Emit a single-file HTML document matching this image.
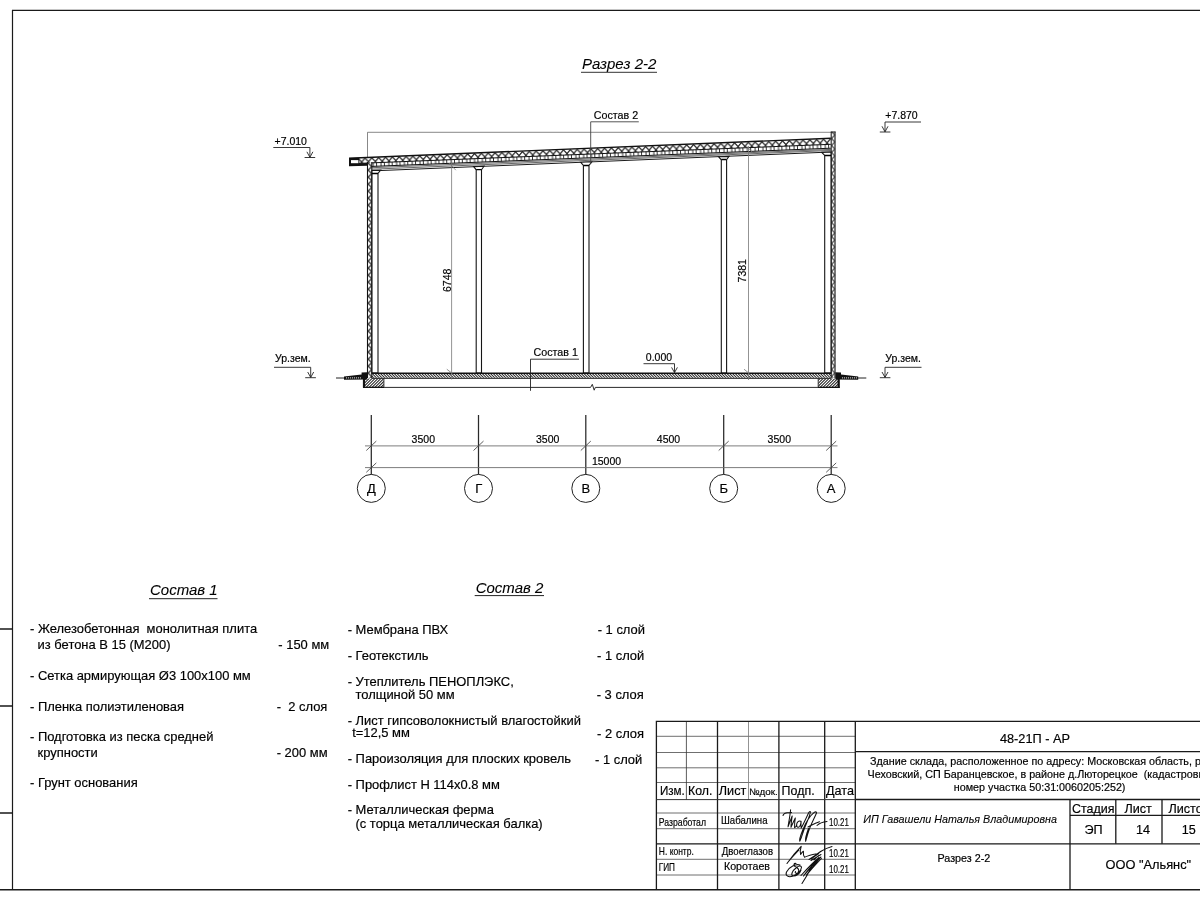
<!DOCTYPE html>
<html lang="ru">
<head>
<meta charset="utf-8">
<title>Разрез 2-2</title>
<style>
html,body{margin:0;padding:0;background:#fff;width:1200px;height:900px;overflow:hidden}
svg{display:block;position:absolute;left:0;top:0;will-change:transform}
text{font-family:"Liberation Sans",sans-serif;fill:#000;stroke:#000;stroke-width:0.18px}
.i{font-style:italic;stroke-width:0.08px}
.k{fill:none}
.g{fill:none}
</style>
</head>
<body>
<svg width="1200" height="900" viewBox="0 0 1200 900">
<defs>
<pattern id="hx" width="6.85" height="5.9" patternUnits="userSpaceOnUse" patternTransform="translate(361.5 157.55) rotate(-2.36)">
<rect width="6.85" height="5.9" fill="#fff"/>
<path d="M-1.2,5.9 L3.425,0.7 L8.05,5.9 M-3.425,0.7 L1.2,5.9 M5.65,5.9 L10.275,0.7" stroke="#0a0a0a" stroke-width="1.12" fill="none"/>
</pattern>
<pattern id="hd" width="7.8" height="12" patternUnits="userSpaceOnUse" patternTransform="translate(368 157) rotate(-2.3)">
<rect width="7.8" height="12" fill="#fff"/>
<rect width="0.85" height="12" fill="#111"/><rect x="4.5" width="0.85" height="12" fill="#111"/>
</pattern>
<pattern id="hw" width="5" height="7" patternUnits="userSpaceOnUse" patternTransform="translate(367.2 159.6)">
<rect width="5" height="7" fill="#fff"/>
<path d="M4.6,0 L0.9,3.5 L4.6,7" stroke="#111" stroke-width="1.05" fill="none"/>
</pattern>
<pattern id="hw2" width="5" height="7" patternUnits="userSpaceOnUse" patternTransform="translate(830.8 201.5)">
<rect width="5" height="7" fill="#fff"/>
<path d="M0.6,0 L4,3.5 L0.6,7" stroke="#111" stroke-width="1.05" fill="none"/>
</pattern>
<clipPath id="cf"><rect x="372" y="373.4" width="459" height="4.3"/></clipPath>
<clipPath id="cb1"><rect x="364" y="378.6" width="19.8" height="8.6"/></clipPath>
<clipPath id="cb2"><rect x="818.3" y="378.6" width="20.4" height="8.6"/></clipPath>
</defs>

<!-- FRAME -->
<g id="frame" class="k" stroke="#1a1a1a" stroke-width="1.2">
<path d="M12.5,889.7 V10.3 H1200"/>
<path d="M0,889.7 H1200" stroke-width="1.5"/>
<path d="M0,629 H12.5 M0,706 H12.5 M0,813 H12.5" stroke-width="1.6"/>
</g>

<!-- DRAWING -->
<g id="drawing">
<!-- thin reference line -->
<path class="g" stroke="#555" stroke-width="0.7" d="M367.5,158 V132.3 H831"/>
<!-- roof layers -->
<polygon points="359,157.7 831,138.2 831,144.2 359,163.4" fill="url(#hx)"/>
<polygon points="367.3,163 831,144.2 831,148.2 367.3,166.7" fill="url(#hd)"/>
<polygon points="349,158.1 359.3,157.7 359.3,163.2 367.3,162.9 367.3,165.8 349,166.2" fill="#111"/>
<rect x="351" y="160.1" width="7.4" height="3.1" fill="#fff"/>
<g class="k" stroke="#111">
<path stroke-width="1.4" d="M349,158.2 L831,138.3"/>
<path stroke-width="1" d="M359,163.4 L831,144.3"/>
<path stroke-width="1" d="M367.3,166.6 L831,148.2"/>
</g>
<!-- truss / profile lines -->
<g class="g" stroke="#000" stroke-width="0.6">
<path d="M372,167.7 L831,149.4"/>
<path d="M372,169.2 L831,150.5"/>
<path d="M372,170.9 L831,152" stroke-width="0.9"/>
</g>
<!-- walls -->
<rect x="367.2" y="162" width="4.7" height="216" fill="url(#hw)"/>
<path class="k" stroke="#111" stroke-width="1.1" d="M367.5,162 V378 M371.8,162 V378"/>
<rect x="830.8" y="131.8" width="4.7" height="246" fill="url(#hw2)"/>
<path class="k" stroke="#111" stroke-width="1" d="M831.2,131.8 V378 M830.8,132 H835.6"/><path class="k" stroke="#333" stroke-width="1.3" d="M835,131.8 V378"/>
<!-- columns -->
<g stroke="#151515" stroke-width="1.1" fill="#fff">
<path d="M372,170.5 L380.6,170.2 L378,173.5 V373 H372 Z"/>
<path d="M473.6,166.6 L484,166.2 L481.5,169.8 V373 H476.2 V169.8 Z"/>
<path d="M580.6,162.2 L591.8,161.8 L589,165.4 V373 H583.4 V165.4 Z"/>
<path d="M718.6,156.8 L729,156.4 L726.6,159.8 V373 H721.3 V159.8 Z"/>
<path d="M821.8,152.4 L831,152 V373 H824.7 V155.4 Z"/>
<path d="M372,173.5 H378 M476.2,169.6 H481.5 M583.4,165.5 H589 M721.3,159.5 H726.6 M824.7,155.5 H831" stroke-width="1.3" stroke="#000"/>
</g>
<!-- floor slab -->
<g clip-path="url(#cf)"><path transform="translate(368,375.5) skewX(45)" d="M0,0 H470" stroke="#1a1a1a" stroke-width="6" stroke-dasharray="1.3 1.45" fill="none"/></g>
<path class="k" stroke="#111" stroke-width="1.4" d="M371.5,373.2 H831.3"/>
<path class="k" stroke="#151515" stroke-width="1" d="M371.5,378.3 H831.3"/>
<!-- foundations -->
<g clip-path="url(#cb1)"><path transform="translate(358,383) skewX(-45)" d="M0,0 H34" stroke="#1a1a1a" stroke-width="10" stroke-dasharray="1.35 1.6" fill="none"/></g>
<g clip-path="url(#cb2)"><path transform="translate(812,383) skewX(-45)" d="M0,0 H34" stroke="#1a1a1a" stroke-width="10" stroke-dasharray="1.35 1.6" fill="none"/></g>
<path class="k" stroke="#111" stroke-width="2.2" d="M364,378.6 V387.6 M838.7,378.6 V387.6"/>
<path class="k" stroke="#222" stroke-width="0.9" d="M383.9,378.5 V387.3 M818.2,378.5 V387.3"/>
<path class="k" stroke="#2a2a2a" stroke-width="1" d="M363,387.4 H590.6 L592.3,384.3 L594.2,390.2 L595.3,387.4 H839.7"/><path class="k" stroke="#111" stroke-width="1.4" d="M363,387.4 H384 M818.2,387.4 H839.7"/>
<!-- aprons -->
<polygon points="344,376.4 361.6,374.6 361.6,372.6 367.2,372.2 367.2,379.4 344,379.8" fill="#111"/>
<polygon points="858.2,376.4 841,374.6 841,372.6 835.4,372.2 835.4,379.4 858.2,379.8" fill="#111"/>
<path d="M346,377.9 H361 M842,377.9 H857" stroke="#fff" stroke-width="0.9" stroke-dasharray="1.1 0.9" fill="none"/>
<path class="g" stroke="#222" stroke-width="1" d="M336,378 H344 M858,378 H866.3"/>

<!-- vertical dims -->
<g class="g" stroke="#777" stroke-width="0.8">
<path d="M451.6,160 V379.5 M449.3,163.2 L455.8,170.2 M446.8,369.2 L452.4,373.6"/>
<path d="M748.5,146 V380 M746,145.5 L752.5,152.5 M744,369.2 L749.4,373.6"/>
</g>
<text transform="translate(451,292) rotate(-90)" font-size="10.5">6748</text>
<text transform="translate(745.6,282.4) rotate(-90)" font-size="10.5">7381</text>

<!-- axes -->
<g class="k" stroke="#2a2a2a" stroke-width="1.25">
<path d="M371.3,415 V474.4 M478.5,415 V474.4 M585.8,415 V474.4 M723.7,415 V474.4 M831.2,415 V474.4"/>
<g stroke-width="1" stroke="#222"><circle cx="371.3" cy="488.4" r="14"/><circle cx="478.5" cy="488.4" r="14"/><circle cx="585.8" cy="488.4" r="14"/><circle cx="723.7" cy="488.4" r="14"/><circle cx="831.2" cy="488.4" r="14"/></g>
</g>
<g class="g" stroke="#6e6e6e" stroke-width="0.9">
<path d="M365,445.9 H837.5 M365,467.6 H837.5"/>
<path d="M366.3,450.5 L376.3,441.1 M473.5,450.5 L483.5,441.1 M580.8,450.5 L590.8,441.1 M718.7,450.5 L728.7,441.1 M826.2,450.5 L836.2,441.1 M366.3,472.3 L376.3,462.9 M826.2,472.3 L836.2,462.9" stroke="#333" stroke-width="0.8"/>
</g>
<g font-size="13" text-anchor="middle">
<text x="371.3" y="493">Д</text><text x="478.7" y="493">Г</text><text x="585.8" y="493">В</text><text x="723.7" y="493">Б</text><text x="831.2" y="493">А</text>
</g>
<g font-size="10.5" text-anchor="middle">
<text x="423.3" y="442.8">3500</text><text x="547.7" y="442.8">3500</text><text x="668.5" y="442.8">4500</text><text x="779.3" y="442.8">3500</text>
<text x="606.5" y="464.7">15000</text>
</g>

<!-- level marks -->
<g class="k" stroke="#222" stroke-width="0.9">
<path d="M273.3,147.5 H309.9 V157.3 M304.6,157.5 H315.2 M306.9,151.8 L309.9,157.3 L312.9,151.8"/>
<path d="M921,122 H885 V131.8 M879.8,132 H890.4 M882,126.3 L885,131.8 L888,126.3"/>
<path d="M274,367.3 H310.7 V377.4 M305.2,377.7 H315.9 M307.7,372 L310.7,377.4 L313.7,372"/>
<path d="M921.5,367.3 H885 V377.4 M879.8,377.7 H890.4 M882,372 L885,377.4 L888,372"/>
<path d="M643.5,363.7 H674.5 V372.6 M671.6,367.4 L674.5,372.6 L677.4,367.4"/>
<path d="M590.7,164 V121.8 H638.8" stroke="#444"/>
<path d="M530.5,390.8 V359.2 H579" stroke="#222"/>
</g>
<g font-size="10.5">
<text x="274.5" y="144.7">+7.010</text>
<text x="885.3" y="118.8">+7.870</text>
<text x="275" y="362.3">Ур.зем.</text>
<text x="885.3" y="362.2">Ур.зем.</text>
<text x="645.8" y="360.8">0.000</text>
<text x="593.8" y="119" font-size="10.7">Состав 2</text>
<text x="533.6" y="356" font-size="10.7">Состав 1</text>
</g>
<!-- title -->
<text class="i" x="582" y="69" font-size="15">Разрез 2-2</text>
<path class="k" stroke="#333" stroke-width="1" d="M581,72.3 H657"/>
</g>

<!-- LISTS -->
<g id="lists" font-size="12.95">
<text class="i" x="150" y="595.2" font-size="15">Состав 1</text>
<text class="i" x="475.7" y="592.8" font-size="15">Состав 2</text>
<path class="k" stroke="#222" stroke-width="1" d="M149,598.7 H217.5 M474.7,595.6 H544"/>
<text x="30" y="633.3" xml:space="preserve">- Железобетонная  монолитная плита</text>
<text x="37.6" y="649.3">из бетона В 15 (М200)</text>
<text x="278.3" y="649.3">- 150 мм</text>
<text x="30" y="680">- Сетка армирующая Ø3 100х100 мм</text>
<text x="30" y="710.7">- Пленка полиэтиленовая</text>
<text x="276.7" y="710.7" xml:space="preserve">-  2 слоя</text>
<text x="30" y="741">- Подготовка из песка средней</text>
<text x="37.6" y="756.7">крупности</text>
<text x="276.7" y="756.7">- 200 мм</text>
<text x="30" y="786.7">- Грунт основания</text>

<text x="347.7" y="634.3">- Мембрана ПВХ</text>
<text x="597.7" y="634.3">- 1 слой</text>
<text x="347.7" y="659.7">- Геотекстиль</text>
<text x="597" y="659.7">- 1 слой</text>
<text x="347.7" y="686">- Утеплитель ПЕНОПЛЭКС,</text>
<text x="355.5" y="698.7">толщиной 50 мм</text>
<text x="596.7" y="698.7">- 3 слоя</text>
<text x="347.7" y="724.7">- Лист гипсоволокнистый влагостойкий</text>
<text x="352.2" y="737.4">t=12,5 мм</text>
<text x="597" y="737.9">- 2 слоя</text>
<text x="347.7" y="763.3">- Пароизоляция для плоских кровель</text>
<text x="595" y="764">- 1 слой</text>
<text x="347.7" y="789.3">- Профлист Н 114х0.8 мм</text>
<text x="347.7" y="814">- Металлическая ферма</text>
<text x="355.5" y="827.7">(с торца металлическая балка)</text>
</g>

<!-- TITLE BLOCK -->
<g id="stamp">
<!-- thin grid -->
<g class="g" stroke="#4a4a4a" stroke-width="0.8">
<path d="M656.4,736.3 H855.3 M656.4,752.5 H855.3 M656.4,767.8 H855.3 M656.4,782.5 H855.3"/>
<path d="M656.4,813 H855.3 M656.4,828.7 H855.3 M656.4,859.3 H855.3 M656.4,875 H855.3"/>
<path d="M686.4,721.4 V799.7" stroke="#333"/><path d="M748.5,721.4 V799.7" stroke="#777"/>
</g>
<!-- thick grid -->
<g class="k" stroke="#1a1a1a" stroke-width="1.3">
<path d="M1200,721.4 H656.4 V889.7"/>
<path d="M717.5,721.4 V889.7 M778.9,721.4 V889.7 M824.7,721.4 V889.7 M855.3,721.4 V889.7"/>
<path d="M855.3,799.5 H1200 M656.4,843.8 H1200 M855.3,751.6 H1200"/><path d="M656.4,799.6 H855.3" stroke="#333" stroke-width="1"/>
<path d="M1070,799.5 V889.7 M1070,815.3 H1200 M1115.8,799.5 V843.8 M1162,799.5 V843.8"/>
</g>
<!-- left texts -->
<g font-size="13">
<text x="660" y="795.1" textLength="24.8" lengthAdjust="spacingAndGlyphs">Изм.</text>
<text x="688" y="795.1" textLength="24.3" lengthAdjust="spacingAndGlyphs">Кол.</text>
<text x="718.8" y="795.1" textLength="27.5" lengthAdjust="spacingAndGlyphs">Лист</text>
<text x="748.9" y="795.1" font-size="9.5" textLength="28.8" lengthAdjust="spacingAndGlyphs">№док.</text>
<text x="781.6" y="795.1" textLength="33" lengthAdjust="spacingAndGlyphs">Подп.</text>
<text x="826" y="795.1" textLength="28" lengthAdjust="spacingAndGlyphs">Дата</text>
</g>
<g font-size="10.7">
<text x="658.8" y="825.5" textLength="47.2" lengthAdjust="spacingAndGlyphs">Разработал</text>
<text x="721" y="824" textLength="46.5" lengthAdjust="spacingAndGlyphs">Шабалина</text>
<text x="829" y="826" textLength="19.8" lengthAdjust="spacingAndGlyphs">10.21</text>
<text x="658.8" y="855" textLength="35" lengthAdjust="spacingAndGlyphs">Н. контр.</text>
<text x="721.8" y="855" textLength="51.2" lengthAdjust="spacingAndGlyphs">Двоеглазов</text>
<text x="829" y="856.8" textLength="19.8" lengthAdjust="spacingAndGlyphs">10.21</text>
<text x="658.8" y="871" textLength="16.2" lengthAdjust="spacingAndGlyphs">ГИП</text>
<text x="724" y="870" textLength="46" lengthAdjust="spacingAndGlyphs">Коротаев</text>
<text x="829" y="872.5" textLength="19.8" lengthAdjust="spacingAndGlyphs">10.21</text>
</g>
<!-- signatures -->
<g class="k" stroke="#111" stroke-width="1.05" stroke-linecap="round" stroke-linejoin="round">
<path d="M783,815.5 C783.5,813.5 786,812.3 791.5,812.6 M790.6,809.8 C790,816 788.6,823 788,826.8 C789.5,823 791,819 792.2,816 C791.6,820 791,824 791,827.2 C792.5,824 794,820.5 795.3,818 C794.8,821 794.4,825 794.6,827.6 C795.5,827.6 796.2,826.5 796.8,825 M800.6,821.2 C798.5,820.5 796.6,822.5 796.6,825 C796.6,827.5 798.5,828 799.8,826.3 C800.6,825 801,823 801.1,821.3 C800.9,824 800.8,826.5 801.2,828 C802.5,826 806,818.5 808.3,813.5 C809.2,811.5 810.2,811 810.4,812 C810,816 806,824 803.5,831 C802,835.5 800.5,840.5 799.8,841.2 C799,840 800.5,835.5 803,829.5 C806,822 811,815 814.5,812.2 C816,811.5 816.8,812 816.5,813 C814.5,818 811,824 808.5,831.5 C807,836 806,840.5 805.6,841.3 C805,839 806.5,834 808.5,828.5 M808,827 C811,825.5 815,823 819.5,821.7 M817,825.5 C819,823.5 822,822 827,821.5"/>
<path d="M787,863.5 C790,859 797,850.5 801.2,846.3 C800.3,849 800,852 800.6,854.5 C801.5,853 802.6,851.5 803.4,851.2 C803.2,853.5 803.5,856 804.5,857.2 C808,856 813,853.5 818.5,853.8 C816,855.5 813,857.5 811.5,858.8 C817,853.5 825,848.5 832,846.6 M789,861 C792,857.5 796,853 799,850 M809,859.5 L819,853 M811,860.5 L821,854.5 M814,860 L818.5,855.5"/>
<path d="M800,865 C796,863.5 789,867 786.5,872 C785,875.5 788,877.5 792.5,876.3 C797,875 801,871 801.5,867.5 C801.5,865.5 799,865.5 796.5,867.5 C792,871 790.5,875 793,876 C796,876.5 800,873.5 801,870 M796,863.5 C794,863 793,865 795,866.5 C798,868 800,870 798,872.5 C796.5,874 794.5,873 795.5,871.5 M801,875.5 C806,870 813,862.5 819,857.5 C814,863.5 807.5,870.5 803.5,876 C808,870.5 815,862 821,857 C816,863 810,870 806.5,875 C810,871 816,864 821.5,858.5 M812,866 C809,872 805,879 802,883.5"/>
</g>
<!-- right texts -->
<text x="1035" y="742.5" font-size="12.75" text-anchor="middle">48-21П - АР</text>
<g font-size="10.75">
<text x="870" y="765">Здание склада, расположенное по адресу: Московская область, р-н</text>
<text x="867.5" y="778" xml:space="preserve">Чеховский, СП Баранцевское, в районе д.Люторецкое  (кадастровый</text>
<text x="953.8" y="791.3">номер участка 50:31:0060205:252)</text>
<text x="937.5" y="862">Разрез 2-2</text>
</g>
<text class="i" x="863.3" y="823" font-size="10.75">ИП Гавашели Наталья Владимировна</text>
<g font-size="12.6">
<text x="1072" y="813" textLength="42.5" lengthAdjust="spacingAndGlyphs">Стадия</text>
<text x="1124.5" y="813">Лист</text>
<text x="1168.5" y="813">Листов</text>
<text x="1084.5" y="833.8">ЭП</text>
<text x="1136" y="833.8">14</text>
<text x="1181.8" y="833.8">15</text>
</g>
<text x="1105.5" y="869.4" font-size="12.8">ООО "Альянс"</text>
</g>
</svg>
</body>
</html>
